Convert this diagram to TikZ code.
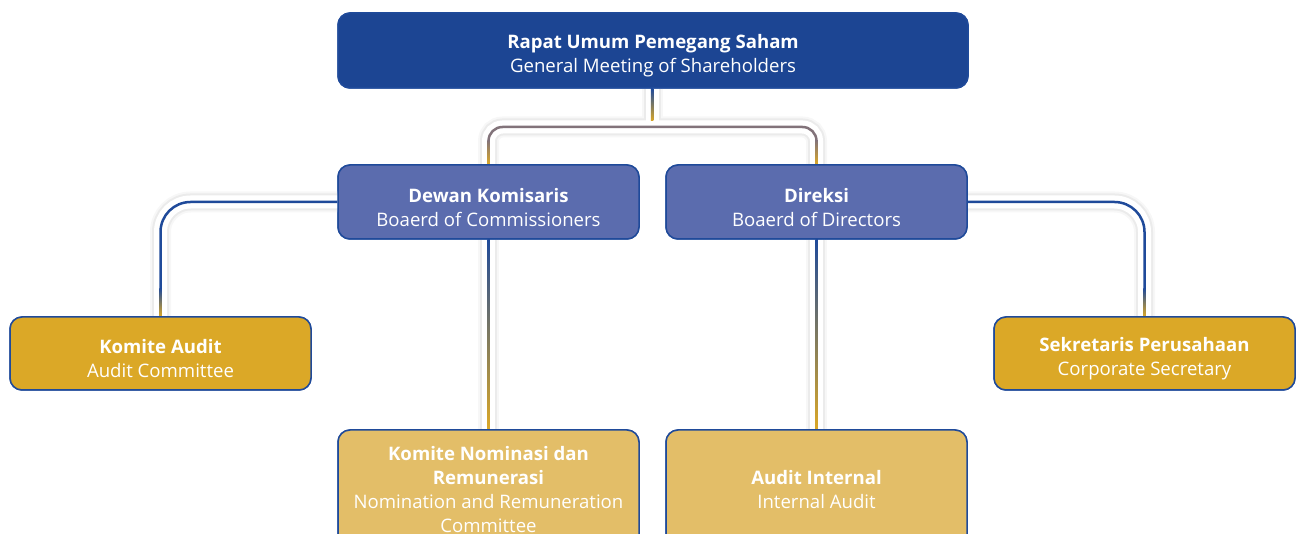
\documentclass[tikz,border=0pt]{standalone}
\usepackage{fontspec}
\setmainfont{Open Sans}
\usetikzlibrary{calc}
\definecolor{topblue}{RGB}{28,69,147}
\definecolor{midblue}{RGB}{91,108,174}
\definecolor{gold}{RGB}{219,168,39}
\definecolor{lgold}{RGB}{227,190,104}
\definecolor{lineblue}{RGB}{31,74,154}
\definecolor{mauve}{RGB}{130,115,122}
\tikzset{
  box/.style={draw=lineblue, line width=1.5pt, rounded corners=12pt, minimum width=301pt,
    minimum height=74pt, inner sep=0pt},
  tx/.style={text=white, align=center, inner sep=0pt, font=\fontsize{18.6}{24}\selectfont},
  haloA/.style={line width=21pt, draw=black!3},
  haloB/.style={line width=17pt, draw=black!8},
  haloC/.style={line width=13pt, draw=white},
  conn/.style={line width=2.5pt},
}
\newcommand{\drawboxes}{%
\node[box, fill=topblue, minimum width=630pt, minimum height=75pt] (rups) at (653,50.5) {};
\node[box, fill=midblue] (dk) at (488.5,202) {};
\node[box, fill=midblue] (dir) at (816.5,202) {};
\node[box, fill=gold, minimum height=73pt] (ka) at (160.5,353.5) {};
\node[box, fill=gold, minimum height=73pt] (sp) at (1144.5,353.5) {};
\node[box, fill=lgold, minimum height=118pt] (kn) at (488.5,489) {};
\node[box, fill=lgold, minimum height=118pt] (ai) at (816.5,489) {};
}
\begin{document}
\begin{tikzpicture}[x=1pt,y=-1pt]
\useasboundingbox (0,0) rectangle (1296,534);
\clip (0,0) rectangle (1296,534);
\drawboxes
\coordinate (j) at (652,127);
% halos
\foreach \s in {haloA,haloB,haloC}{
  \draw[\s] ($(rups.south)+(-1,0)$) -- (j);
  \draw[\s, rounded corners=14pt] (dk.north) |- (j) -| (dir.north);
  \draw[\s, rounded corners=30pt] (dk.west) -| (ka.north);
  \draw[\s, rounded corners=30pt] (dir.east) -| (sp.north);
  \draw[\s] (dk.south) -- (kn.north);
  \draw[\s] (dir.south) -- (ai.north);
}
% connector lines
\draw[conn, draw=mauve, rounded corners=14pt] (dk.north) |- (j) -| (dir.north);
\draw[conn, draw=lineblue, rounded corners=30pt] (dk.west) -| (ka.north);
\draw[conn, draw=lineblue, rounded corners=30pt] (dir.east) -| (sp.north);
% gradient segments
\shade[top color=lineblue, bottom color=gold] ($(rups.south)+(-2.25,0)$) rectangle ($(j)+(1.25,-6)$);
\shade[top color=mauve, bottom color=gold] ($(dk.north)+(-1.25,-24)$) rectangle ($(dk.north)+(1.25,0)$);
\shade[top color=mauve, bottom color=gold] ($(dir.north)+(-1.25,-24)$) rectangle ($(dir.north)+(1.25,0)$);
\shade[top color=lineblue, bottom color=gold] ($(ka.north)+(-1.25,-28)$) rectangle ($(ka.north)+(1.25,0)$);
\shade[top color=lineblue, bottom color=gold] ($(sp.north)+(-1.25,-28)$) rectangle ($(sp.north)+(1.25,0)$);
\shade[top color=lineblue, middle color=mauve, bottom color=gold] ($(dk.south)+(-1.25,0)$) rectangle ($(kn.north)+(1.25,0)$);
\shade[top color=lineblue, middle color=mauve, bottom color=gold] ($(dir.south)+(-1.25,0)$) rectangle ($(ai.north)+(1.25,0)$);
% boxes on top
\drawboxes
% texts
\node[tx] (trups) at ($(rups.center)+(0,5.5)$) {\textbf{Rapat Umum Pemegang Saham}\\General Meeting of Shareholders};
\node[tx] (tdk) at ($(dk.center)+(0,5.5)$) {\textbf{Dewan Komisaris}\\Boaerd of Commissioners};
\node[tx] (tdir) at ($(dir.center)+(0,5.5)$) {\textbf{Direksi}\\Boaerd of Directors};
\node[tx] (tka) at ($(ka.center)+(0,5.5)$) {\textbf{Komite Audit}\\Audit Committee};
\node[tx] (tsp) at ($(sp.center)+(0,5.5)$) {\textbf{Sekretaris Perusahaan}\\Corporate Secretary};
\node[tx] (tkn) at ($(kn.center)+(0,1)$) {\textbf{Komite Nominasi dan}\\\textbf{Remunerasi}\\Nomination and Remuneration\\Committee};
\node[tx] (tai) at ($(ai.center)+(0,1)$) {\textbf{Audit Internal}\\Internal Audit};
\end{tikzpicture}
\end{document}
